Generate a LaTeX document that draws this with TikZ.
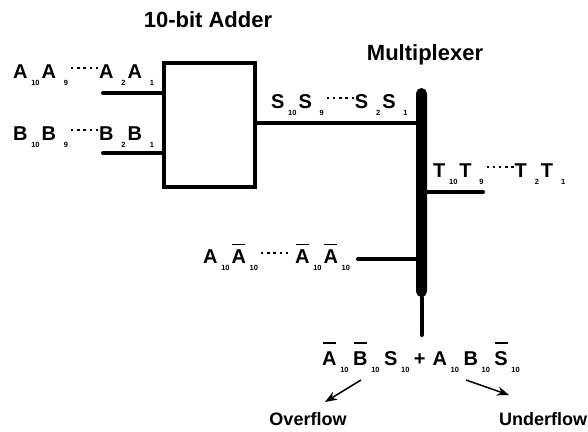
\documentclass[tikz,border=0pt]{standalone}
\usepackage{fontspec}
\setmainfont{Liberation Sans}
\usetikzlibrary{arrows.meta}
\newcommand\lsub[2][2pt]{\hspace{3pt}\raisebox{-7.7pt}{\makebox[9pt][r]{\fontsize{7.5}{7.5}\selectfont\bfseries #2}}\hspace{#1}}
\newcommand\ldot{\rule{2.3pt}{2.3pt}}
\newcommand\ldts{\hspace{1pt}\raisebox{9pt}{\ldot\hspace{3.9pt}\ldot\hspace{3.9pt}\ldot\hspace{3.9pt}\ldot\hspace{3.9pt}\ldot}\hspace{1pt}}
\newcommand\lbar[2][18pt]{\leavevmode\rlap{\hspace{0.7pt}\raisebox{#1}{\rule{13pt}{1.5pt}}}#2}
\tikzset{
  wire/.style={line width=4pt, line cap=round},
  lbl/.style={anchor=base west, inner sep=0pt, font=\fontsize{20}{20}\selectfont\bfseries},
  ttl/.style={anchor=base, inner sep=0pt, font=\fontsize{22}{22}\selectfont\bfseries},
  sttl/.style={anchor=base, inner sep=0pt, font=\fontsize{18}{18}\selectfont\bfseries},
  arr/.style={line width=1.5pt, -{Stealth[length=12pt,width=9pt]}},
}
\begin{document}
\begin{tikzpicture}[x=1pt,y=1pt]
\useasboundingbox (0,0) rectangle (588,-431);
% adder box
\node[draw, line width=3.5pt, minimum width=91pt, minimum height=124pt, inner sep=0pt] (adder) at (209.5,-125) {};
% bus
\node[fill=black, rounded corners=5.5pt, minimum width=11pt, minimum height=209pt, inner sep=0pt] (bus) at (421.5,-192.5) {};
% titles
\node[ttl] (t1) at (208,-27) {10-bit Adder};
\node[ttl] (t2) at (425,-60) {Multiplexer};
% inputs
\coordinate (ain) at (103,-93);
\coordinate (bin) at (103,-153);
\draw[wire] (ain) -- (ain -| adder.west);
\draw[wire] (bin) -- (bin -| adder.west);
\node[lbl] (la) at (13,-78) {A\lsub{10}A\lsub{9}\ldts A\lsub{2}A\lsub{1}};
\node[lbl] (lb) at (13,-140) {B\lsub{10}B\lsub{9}\ldts B\lsub{2}B\lsub{1}};
% sum
\coordinate (sout) at (adder.east |- 0,-123);
\draw[wire, line cap=butt] (sout) -- (sout -| bus.center);
\node[lbl] (ls) at (271,-108) {S\lsub{10}S\lsub{9}\ldts S\lsub{2}S\lsub{1}};
% T output
\coordinate (tend) at (483,-192);
\draw[wire] (tend) -- (tend -| bus.center);
\node[lbl] (lt) at (433,-177) {T\lsub{10}T\lsub{9}\ldts T\lsub{2}T\lsub{1}};
% A-bar input
\coordinate (abin) at (358,-259);
\draw[wire] (abin) -- (abin -| bus.center);
\node[lbl] (lab) at (203,-263) {A\lsub{10}\lbar{A}\lsub{10}\ldts\hspace{6pt}\lbar{A}\lsub{10}\lbar{A}\lsub{10}};
% output
\coordinate (oend) at (421.5,-335);
\draw[wire] (bus.south) -- (oend);
\node[lbl] (expr) at (322,-365) {\lbar[21.5pt]{A}\lsub[4.5pt]{10}\lbar[21.5pt]{B}\lsub[4.5pt]{10}S\lsub[4.5pt]{10}+\hspace{7pt}A\lsub[4.5pt]{10}B\lsub[4.5pt]{10}\lbar[21.5pt]{S}\lsub[4.5pt]{10}};
% flags
\node[sttl] (ov) at (308,-425) {Overflow};
\node[sttl] (un) at (543,-425) {Underflow};
\coordinate (a1s) at (361,-380);
\coordinate (a1e) at (325,-402);
\coordinate (a2s) at (466,-380);
\coordinate (a2e) at (509,-395);
\draw[arr] (a1s) -- (a1e);
\draw[arr] (a2s) -- (a2e);
\end{tikzpicture}
\end{document}
